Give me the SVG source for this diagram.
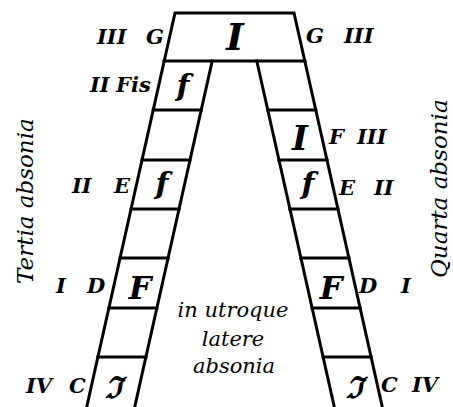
<svg xmlns="http://www.w3.org/2000/svg" width="453" height="407" viewBox="0 0 453 407">
<style>
.ln{stroke:#000;stroke-width:3;fill:none;stroke-linecap:square;stroke-linejoin:miter}
.lab{font-family:"DejaVu Serif","Liberation Serif",serif;font-weight:bold;font-style:italic;font-size:21px;fill:#000}
.glyph{font-family:"DejaVu Serif","Liberation Serif",serif;font-weight:bold;font-style:italic;fill:#000;text-anchor:middle}
.side{font-family:"DejaVu Serif","Liberation Serif",serif;font-style:italic;font-size:23px;fill:#000}
.mid{font-family:"DejaVu Serif","Liberation Serif",serif;font-style:italic;font-size:21px;fill:#000;text-anchor:middle}
</style>
<rect width="453" height="407" fill="#fff"/>
<g id="ladder">
  <polyline class="ln" points="164.2,61 175,13 294,13 304.8,61"/>
  <line class="ln" x1="164.2" y1="61" x2="304.8" y2="61"/>
  <line class="ln" x1="164.2" y1="61" x2="86.7" y2="407"/>
  <line class="ln" x1="212.2" y1="61" x2="134.7" y2="407"/>
  <line class="ln" x1="304.8" y1="61" x2="382.3" y2="407"/>
  <line class="ln" x1="256.8" y1="61" x2="334.3" y2="407"/>
  <line class="ln" x1="153.2" y1="110" x2="201.2" y2="110"/>
  <line class="ln" x1="142.0" y1="160" x2="190.0" y2="160"/>
  <line class="ln" x1="131.1" y1="209" x2="179.1" y2="209"/>
  <line class="ln" x1="120.1" y1="258" x2="168.1" y2="258"/>
  <line class="ln" x1="108.9" y1="308" x2="156.9" y2="308"/>
  <line class="ln" x1="97.9" y1="357" x2="145.9" y2="357"/>
  <line class="ln" x1="267.8" y1="110" x2="315.8" y2="110"/>
  <line class="ln" x1="279.0" y1="160" x2="327.0" y2="160"/>
  <line class="ln" x1="289.9" y1="209" x2="337.9" y2="209"/>
  <line class="ln" x1="300.9" y1="258" x2="348.9" y2="258"/>
  <line class="ln" x1="312.1" y1="308" x2="360.1" y2="308"/>
  <line class="ln" x1="323.1" y1="357" x2="371.1" y2="357"/>
</g>
<g id="cell-glyphs">
  <text class="glyph" x="235" y="50" font-size="38">I</text>
  <text class="glyph" x="183" y="96" font-size="30">f</text>
  <text class="glyph" x="162" y="194" font-size="30">f</text>
  <text class="glyph" x="140" y="299" font-size="32">F</text>
  <text class="glyph" x="113" y="398" font-size="30">ℑ</text>
  <text class="glyph" x="300" y="150" font-size="34">I</text>
  <text class="glyph" x="308" y="194" font-size="30">f</text>
  <text class="glyph" x="331" y="299" font-size="32">F</text>
  <text class="glyph" x="354" y="398" font-size="30">ℑ</text>
</g>
<g id="left-labels">
  <text class="lab" y="44"><tspan x="97">III</tspan><tspan x="146">G</tspan></text>
  <text class="lab" y="92"><tspan x="90">II</tspan><tspan x="116">Fis</tspan></text>
  <text class="lab" y="193"><tspan x="72">II</tspan><tspan x="114">E</tspan></text>
  <text class="lab" y="293"><tspan x="56">I</tspan><tspan x="87">D</tspan></text>
  <text class="lab" y="393"><tspan x="26">IV</tspan><tspan x="69">C</tspan></text>
</g>
<g id="right-labels">
  <text class="lab" y="43"><tspan x="306">G</tspan><tspan x="344">III</tspan></text>
  <text class="lab" y="144"><tspan x="329">F</tspan><tspan x="357">III</tspan></text>
  <text class="lab" y="195"><tspan x="339">E</tspan><tspan x="374">II</tspan></text>
  <text class="lab" y="293"><tspan x="359">D</tspan><tspan x="401">I</tspan></text>
  <text class="lab" y="392"><tspan x="381">C</tspan><tspan x="412">IV</tspan></text>
</g>
<g id="side-texts">
  <text class="side" transform="translate(33,284) rotate(-90)">Tertia absonia</text>
  <text class="side" transform="translate(447,278) rotate(-90)">Quarta absonia</text>
</g>
<g id="center-text">
  <text class="mid" x="233" y="317">in utroque</text>
  <text class="mid" x="233" y="346">latere</text>
  <text class="mid" x="234" y="373">absonia</text>
</g>
</svg>
